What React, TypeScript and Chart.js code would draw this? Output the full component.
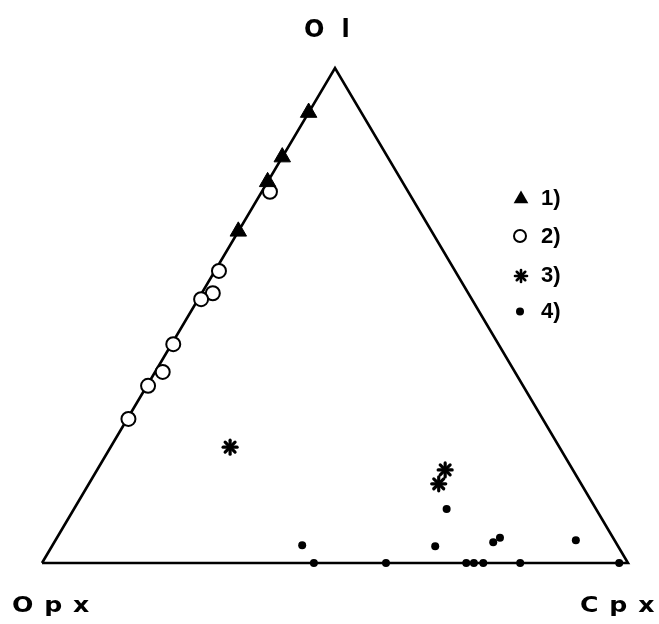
import React, { useEffect, useRef } from "react";
import { Chart, registerables } from "chart.js";

Chart.register(...registerables);

// Ternary compositions (percent): Ol, Opx, Cpx
const outlineOl = [0, 0, 100, 0];
const outlineOpx = [100, 0, 0, 100];
const outlineCpx = [0, 100, 0, 0];

const s1Ol = [91, 82, 77, 67];
const s1Opx = [9, 18, 23, 33];
const s1Cpx = [0, 0, 0, 0];

const s2Ol = [75, 59, 54.5, 53.3, 44.2, 38.6, 35.8, 29.1];
const s2Opx = [23.6, 40.3, 43.6, 46.2, 55.5, 60.1, 64.0, 70.7];
const s2Cpx = [1.4, 0.7, 1.9, 0.5, 0.3, 1.3, 0.2, 0.2];

const s3Ol = [23.4, 18.8, 16.0];
const s3Opx = [56.2, 21.8, 24.3];
const s3Cpx = [20.4, 59.4, 59.7];

const s4Ol = [10.9, 3.4, 3.6, 4.2, 5.1, 4.6, 0, 0, 0, 0, 0, 0, 0];
const s4Opx = [25.5, 31.2, 53.8, 20.9, 19.3, 6.6, 53.6, 41.3, 27.6, 26.3, 24.7, 18.4, 1.5];
const s4Cpx = [63.6, 65.4, 42.6, 74.9, 75.6, 88.8, 46.4, 58.7, 72.4, 73.7, 75.3, 81.6, 98.5];

const vertexLabels = ["Ol", "Opx", "Cpx"];
const legendLabels = ["1)", "2)", "3)", "4)"];

function toXY(ol: number[], opx: number[], cpx: number[]) {
  return ol.map((o, i) => {
    const s = o + opx[i] + cpx[i];
    return { x: ((cpx[i] + o / 2) / s) * 100, y: (o / s) * 100 };
  });
}

function drawStar(ctx: CanvasRenderingContext2D, x: number, y: number, r: number, lw: number) {
  ctx.save();
  ctx.strokeStyle = "#000";
  ctx.lineWidth = lw;
  ctx.lineCap = "round";
  for (let k = 0; k < 4; k++) {
    const a = (k * Math.PI) / 4;
    ctx.beginPath();
    ctx.moveTo(x - Math.cos(a) * r, y - Math.sin(a) * r);
    ctx.lineTo(x + Math.cos(a) * r, y + Math.sin(a) * r);
    ctx.stroke();
  }
  ctx.restore();
}

const legendPlugin = {
  id: "ternaryLegend",
  afterDraw(chart: any) {
    const ctx = chart.ctx as CanvasRenderingContext2D;
    ctx.save();
    ctx.fillStyle = "#000";
    ctx.strokeStyle = "#000";
    // triangle
    const tx = 521, ty = 199, tr = 8.5;
    ctx.beginPath();
    ctx.moveTo(tx, ty - tr);
    ctx.lineTo(tx + tr * 0.866, ty + tr * 0.5);
    ctx.lineTo(tx - tr * 0.866, ty + tr * 0.5);
    ctx.closePath();
    ctx.fill();
    // circle
    ctx.beginPath();
    ctx.lineWidth = 2;
    ctx.arc(520, 236, 6, 0, Math.PI * 2);
    ctx.stroke();
    // star
    drawStar(ctx, 521, 276, 6, 2.6);
    // dot
    ctx.beginPath();
    ctx.arc(520, 311.5, 4, 0, Math.PI * 2);
    ctx.fill();
    ctx.restore();
  },
};

const starPlugin = {
  id: "starMarkers",
  afterDatasetsDraw(chart: any) {
    const meta = chart.getDatasetMeta(3);
    const ctx = chart.ctx as CanvasRenderingContext2D;
    meta.data.forEach((pt: any) => drawStar(ctx, pt.x, pt.y, 7, 3.2));
  },
};

export default function App() {
  const ref = useRef<HTMLCanvasElement>(null);
  useEffect(() => {
    document.body.style.margin = "0";
    const chart = new Chart(ref.current!, {
      type: "scatter",
      data: {
        datasets: [
          {
            label: "outline",
            data: toXY(outlineOl, outlineOpx, outlineCpx),
            showLine: true,
            borderColor: "#000",
            borderWidth: 2.6,
            pointRadius: 0,
            order: 10,
            clip: false,
          } as any,
          {
            label: legendLabels[0],
            data: toXY(s1Ol, s1Opx, s1Cpx),
            pointStyle: "triangle",
            pointRadius: 9.5,
            backgroundColor: "#000",
            borderColor: "#000",
            borderWidth: 1,
            order: 1,
            clip: false,
          },
          {
            label: legendLabels[1],
            data: toXY(s2Ol, s2Opx, s2Cpx),
            pointStyle: "circle",
            pointRadius: 7,
            backgroundColor: "#fff",
            borderColor: "#000",
            borderWidth: 2,
            order: 2,
            clip: false,
          },
          {
            label: legendLabels[2],
            data: toXY(s3Ol, s3Opx, s3Cpx),
            pointRadius: 0,
            backgroundColor: "#000",
            borderColor: "#000",
            order: 3,
            clip: false,
          },
          {
            label: legendLabels[3],
            data: toXY(s4Ol, s4Opx, s4Cpx),
            pointStyle: "circle",
            pointRadius: 4,
            backgroundColor: "#000",
            borderColor: "#000",
            borderWidth: 0,
            order: 4,
            clip: false,
          },
        ],
      },
      options: {
        responsive: false,
        animation: false,
        layout: { padding: { left: 42, right: 31, top: 68, bottom: 61 } },
        scales: {
          x: { type: "linear", min: 0, max: 100, display: false },
          y: { type: "linear", min: 0, max: 100, display: false },
        },
        plugins: { legend: { display: false }, tooltip: { enabled: false } },
      },
      plugins: [starPlugin, legendPlugin],
    });
    return () => chart.destroy();
  }, []);

  const vStyle: React.CSSProperties = {
    position: "absolute",
    fontFamily: "'DejaVu Sans', sans-serif",
    fontWeight: "bold",
    fontSize: 21,
    color: "#000",
    letterSpacing: 9,
    lineHeight: 1,
    whiteSpace: "nowrap",
    transform: "scaleX(1.2)",
    transformOrigin: "0 0",
  };
  const lStyle: React.CSSProperties = {
    position: "absolute",
    fontFamily: "'Liberation Sans', Arial, sans-serif",
    fontWeight: "bold",
    fontSize: 22,
    color: "#000",
    lineHeight: 1,
    whiteSpace: "nowrap",
  };

  return (
    <div style={{ position: "relative", width: 659, height: 624, background: "#fff" }}>
      <canvas ref={ref} width={659} height={624} style={{ position: "absolute", left: 0, top: 0 }} />
      <div style={{ ...vStyle, left: 304, top: 17, fontSize: 24, letterSpacing: 17, transform: "none" }}>{vertexLabels[0]}</div>
      <div style={{ ...vStyle, left: 12, top: 595 }}>{vertexLabels[1]}</div>
      <div style={{ ...vStyle, left: 580, top: 595 }}>{vertexLabels[2]}</div>
      <div style={{ ...lStyle, left: 541, top: 187 }}>{legendLabels[0]}</div>
      <div style={{ ...lStyle, left: 541, top: 225 }}>{legendLabels[1]}</div>
      <div style={{ ...lStyle, left: 541, top: 264 }}>{legendLabels[2]}</div>
      <div style={{ ...lStyle, left: 541, top: 300 }}>{legendLabels[3]}</div>
    </div>
  );
}
